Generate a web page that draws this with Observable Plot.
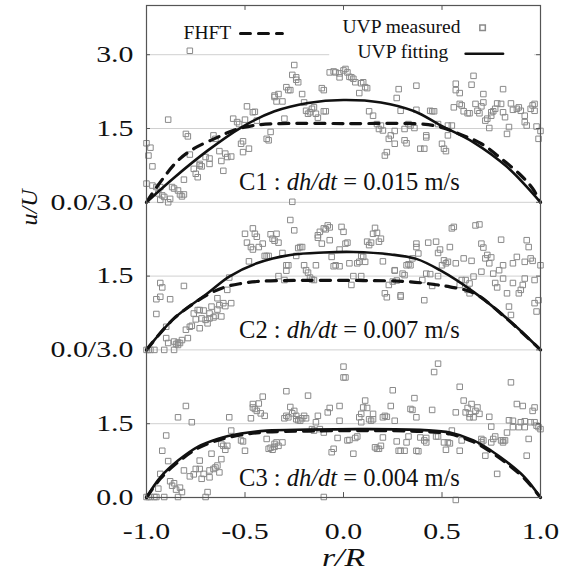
<!DOCTYPE html>
<html><head><meta charset="utf-8">
<script src="https://cdn.jsdelivr.net/npm/d3@7"></script>
<script src="https://cdn.jsdelivr.net/npm/@observablehq/plot@0.6"></script>
<style>body{margin:0;background:#fff}</style>
</head><body><div id="chart"></div>
<script>
// ---------- data ----------
const panelNames = ["C1", "C2", "C3"];
const panelRates = ["0.015", "0.007", "0.004"];
const panelOffset = {C1: 6, C2: 3, C3: 0};   // stacked panels, each 0–3
const yTicks = [0, 1.5, 3, 4.5, 6, 7.5, 9];
const yTickLabels = ["0.0", "1.5", "0.0/3.0", "1.5", "0.0/3.0", "1.5", "3.0"];
const xTicks = [-1, -0.5, 0, 0.5, 1];
const xTickLabels = ["-1.0", "-0.5", "0.0", "0.5", "1.0"];

const c1Measured = [[-0.78,3.08],[-1.00,1.20],[-0.98,1.11],[-0.99,0.95],[-0.97,0.73],[-1.00,0.38],[-0.97,0.34],[-0.95,0.31],[-0.93,0.31],[-0.94,0.18],[-0.92,0.14],[-0.93,0.05],[-0.91,0.11],[-0.89,0.0],[-0.89,1.68],[-0.88,0.07],[-0.87,0.31],[-0.86,0.28],[-0.84,0.24],[-0.83,0.16],[-0.82,0.12],[-0.81,0.16],[-0.80,1.39],[-0.79,1.34],[-0.81,0.46],[-0.78,0.97],[-0.76,0.68],[-0.75,0.58],[-0.74,0.51],[-0.73,0.75],[-0.73,0.78],[-0.72,0.73],[-0.70,0.92],[-0.68,0.89],[-0.68,0.78],[-0.66,1.36],[-0.65,1.29],[-0.63,1.04],[-0.62,0.84],[-0.61,0.64],[-0.60,0.99],[-0.59,0.92],[-0.57,0.93],[-0.56,1.70],[-0.54,1.63],[-0.53,1.59],[-0.52,1.19],[-0.51,1.02],[-0.51,1.24],[-0.50,1.68],[-0.49,1.95],[-0.48,1.09],[-0.46,1.83],[-0.45,1.84],[-0.44,1.66],[-0.39,1.29],[-0.38,1.26],[-0.37,1.43],[-0.35,2.14],[-0.35,2.17],[-0.34,2.05],[-0.33,2.20],[-0.31,2.05],[-0.30,1.70],[-0.29,2.34],[-0.28,2.28],[-0.27,2.28],[-0.25,2.79],[-0.26,2.59],[-0.24,2.54],[-0.24,2.49],[-0.23,2.44],[-0.21,2.20],[-0.20,2.03],[-0.19,1.86],[-0.18,1.80],[-0.17,1.83],[-0.16,1.90],[-0.15,1.93],[-0.14,1.80],[-0.13,1.72],[-0.11,2.32],[-0.10,2.28],[-0.10,1.85],[-0.09,1.85],[-0.07,2.64],[-0.05,2.66],[-0.04,2.64],[-0.02,2.54],[-0.02,2.62],[0.00,2.68],[0.01,2.71],[0.02,2.64],[0.03,2.55],[0.04,2.54],[0.05,2.51],[0.06,2.44],[0.08,2.22],[0.09,2.42],[0.10,2.44],[0.11,2.34],[0.12,2.32],[0.13,1.85],[0.15,1.76],[0.17,1.59],[0.18,1.49],[0.19,1.56],[0.20,1.46],[0.21,0.95],[0.22,1.02],[0.23,1.29],[0.24,1.36],[0.26,1.19],[0.26,1.45],[0.27,2.12],[0.28,2.30],[0.29,1.86],[0.31,1.49],[0.31,1.26],[0.32,1.20],[0.33,1.59],[0.34,1.56],[0.36,1.51],[0.37,2.37],[0.37,1.88],[0.39,1.09],[0.41,1.09],[0.42,1.36],[0.42,1.32],[0.44,1.86],[0.45,1.85],[0.46,1.85],[0.48,1.59],[0.50,1.19],[0.51,1.09],[0.52,1.04],[0.53,1.36],[0.53,1.56],[0.55,1.56],[0.56,1.93],[0.57,2.41],[0.57,2.28],[0.59,2.22],[0.59,2.00],[0.60,1.97],[0.61,1.85],[0.63,1.81],[0.64,1.81],[0.65,2.39],[0.66,2.57],[0.67,2.00],[0.68,1.86],[0.69,1.81],[0.70,1.95],[0.71,2.20],[0.71,2.03],[0.72,1.66],[0.73,1.70],[0.74,1.51],[0.75,1.76],[0.75,1.83],[0.76,1.85],[0.77,1.90],[0.78,2.01],[0.80,2.00],[0.81,1.83],[0.81,2.30],[0.82,1.73],[0.83,1.39],[0.84,1.53],[0.85,2.01],[0.86,1.88],[0.88,1.90],[0.89,1.93],[0.90,1.86],[0.92,1.76],[0.92,1.63],[0.93,1.56],[0.95,1.90],[0.96,1.97],[0.97,2.00],[0.97,1.86],[0.98,1.54],[0.99,1.29],[1.00,1.45],[-0.26,0.01]];

const c2Measured = [[-1.00,0.00],[-0.99,0.00],[-0.98,0.00],[-0.96,0.00],[-0.91,0.00],[-0.86,0.00],[-0.95,0.73],[-0.95,1.03],[-0.93,1.08],[-0.93,1.36],[-0.92,1.27],[-0.90,0.24],[-0.90,0.47],[-0.88,1.03],[-0.89,0.14],[-0.86,0.17],[-0.85,0.12],[-0.84,0.10],[-0.84,0.15],[-0.83,0.14],[-0.82,0.20],[-0.81,1.30],[-0.80,0.41],[-0.79,0.24],[-0.78,0.47],[-0.77,0.49],[-0.76,0.74],[-0.75,0.62],[-0.74,0.81],[-0.73,0.44],[-0.73,0.81],[-0.72,0.64],[-0.71,0.80],[-0.70,0.61],[-0.69,0.54],[-0.68,0.64],[-0.68,0.74],[-0.67,0.88],[-0.66,0.66],[-0.65,0.69],[-0.64,0.82],[-0.64,1.05],[-0.63,0.91],[-0.62,0.68],[-0.61,0.95],[-0.60,0.89],[-0.59,1.22],[-0.58,1.47],[-0.57,0.95],[-0.50,2.36],[-0.49,2.18],[-0.48,1.80],[-0.47,2.09],[-0.46,2.04],[-0.46,2.47],[-0.45,2.36],[-0.44,2.30],[-0.43,2.09],[-0.41,2.16],[-0.40,1.91],[-0.39,1.91],[-0.38,1.91],[-0.37,2.35],[-0.36,2.26],[-0.35,2.22],[-0.34,2.36],[-0.33,2.18],[-0.33,1.50],[-0.31,1.97],[-0.30,1.42],[-0.29,1.72],[-0.29,1.61],[-0.28,1.72],[-0.27,2.64],[-0.25,2.43],[-0.24,1.91],[-0.23,2.07],[-0.22,2.09],[-0.21,2.09],[-0.20,1.72],[-0.19,1.62],[-0.18,1.57],[-0.17,1.47],[-0.16,1.43],[-0.15,1.42],[-0.14,1.72],[-0.13,2.33],[-0.13,2.28],[-0.12,2.40],[-0.11,2.16],[-0.10,2.47],[-0.09,2.45],[-0.08,2.53],[-0.07,2.49],[-0.07,2.23],[-0.06,1.89],[-0.05,1.70],[-0.04,1.72],[-0.02,1.70],[-0.02,2.04],[-0.01,2.50],[0.00,2.40],[0.01,2.16],[0.02,2.18],[0.03,1.76],[0.04,1.32],[0.05,1.50],[0.07,1.76],[0.08,1.79],[0.09,1.91],[0.09,1.50],[0.10,1.89],[0.11,1.79],[0.12,2.20],[0.13,2.13],[0.14,2.18],[0.15,2.36],[0.16,2.48],[0.17,2.38],[0.18,2.20],[0.19,2.26],[0.20,1.80],[0.21,1.15],[0.22,1.07],[0.23,1.32],[0.25,1.39],[0.26,1.62],[0.26,1.61],[0.27,1.41],[0.29,1.11],[0.29,1.08],[0.30,1.55],[0.31,1.52],[0.32,1.72],[0.33,1.74],[0.34,1.72],[0.35,1.86],[0.37,2.09],[0.37,2.16],[0.38,1.96],[0.40,1.42],[0.41,1.01],[0.42,1.55],[0.43,2.18],[0.44,1.54],[0.45,1.30],[0.47,2.20],[0.48,1.50],[0.48,1.97],[0.49,2.04],[0.50,1.72],[0.51,1.82],[0.52,1.76],[0.53,1.79],[0.54,2.09],[0.55,2.47],[0.56,2.50],[0.57,1.76],[0.59,1.32],[0.60,1.42],[0.61,1.86],[0.62,1.42],[0.63,1.22],[0.64,1.15],[0.64,1.35],[0.65,1.81],[0.66,1.49],[0.67,2.53],[0.69,2.55],[0.70,1.59],[0.70,2.16],[0.71,2.08],[0.72,1.86],[0.73,1.93],[0.74,1.76],[0.75,1.88],[0.76,1.55],[0.77,1.36],[0.78,1.27],[0.79,1.62],[0.80,2.24],[0.81,1.72],[0.81,1.45],[0.83,1.15],[0.84,0.88],[0.85,0.71],[0.86,1.76],[0.86,1.36],[0.88,1.89],[0.89,1.15],[0.90,1.22],[0.91,1.32],[0.92,1.45],[0.92,1.79],[0.93,2.23],[0.94,2.09],[0.95,1.86],[0.96,1.81],[0.97,1.42],[0.97,0.95],[0.98,0.78],[0.99,1.01],[1.00,1.72]];

const c3Measured = [[0.00,2.66],[0.00,2.44],[0.01,2.44],[0.46,2.55],[0.48,2.72],[-1.00,0.01],[-0.99,0.01],[-0.98,0.01],[-0.96,0.01],[-0.95,0.01],[-0.91,0.01],[-0.84,0.01],[-0.70,0.01],[-0.94,0.18],[-0.93,0.48],[-0.92,0.95],[-0.90,1.26],[-0.89,0.74],[-0.88,0.33],[-0.87,0.24],[-0.86,0.29],[-0.85,0.16],[-0.84,1.63],[-0.83,0.20],[-0.82,0.11],[-0.81,0.55],[-0.80,1.86],[-0.78,0.43],[-0.77,1.53],[-0.76,0.47],[-0.75,0.58],[-0.73,0.58],[-0.73,0.75],[-0.72,0.38],[-0.71,0.48],[-0.69,0.11],[-0.68,0.41],[-0.68,0.55],[-0.67,0.89],[-0.66,0.58],[-0.65,0.61],[-0.64,0.65],[-0.63,0.51],[-0.62,0.78],[-0.62,1.09],[-0.61,1.05],[-0.60,0.97],[-0.59,1.05],[-0.58,1.63],[-0.57,1.36],[-0.52,1.16],[-0.51,1.14],[-0.50,0.95],[-0.47,1.61],[-0.46,1.90],[-0.46,1.83],[-0.45,1.80],[-0.44,1.76],[-0.43,1.91],[-0.42,1.71],[-0.41,2.05],[-0.40,1.66],[-0.39,1.19],[-0.38,0.99],[-0.37,1.01],[-0.36,0.97],[-0.35,1.03],[-0.35,1.09],[-0.34,1.12],[-0.33,1.05],[-0.31,1.12],[-0.30,1.61],[-0.29,2.16],[-0.29,1.66],[-0.28,1.63],[-0.27,1.84],[-0.26,1.71],[-0.25,1.76],[-0.24,1.59],[-0.24,1.66],[-0.23,1.57],[-0.22,1.56],[-0.21,1.61],[-0.20,1.66],[-0.19,1.61],[-0.18,2.07],[-0.16,1.39],[-0.15,1.36],[-0.14,1.53],[-0.13,1.66],[-0.12,1.39],[-0.10,1.32],[-0.08,1.73],[-0.07,1.82],[-0.06,0.92],[-0.05,0.99],[-0.03,1.21],[-0.02,1.56],[-0.02,1.86],[0.02,1.16],[0.03,1.17],[0.05,0.89],[0.06,1.21],[0.07,1.24],[0.08,1.63],[0.09,1.53],[0.09,1.70],[0.10,1.83],[0.11,1.97],[0.12,1.82],[0.13,1.59],[0.14,1.56],[0.15,1.70],[0.15,1.59],[0.16,1.02],[0.17,0.99],[0.18,0.99],[0.19,1.05],[0.20,1.22],[0.20,1.63],[0.21,1.66],[0.22,1.64],[0.24,1.86],[0.25,2.18],[0.26,1.56],[0.27,1.14],[0.28,0.95],[0.29,0.95],[0.31,0.95],[0.32,1.12],[0.33,1.24],[0.34,1.80],[0.35,1.78],[0.36,2.02],[0.37,1.63],[0.37,0.95],[0.38,0.94],[0.39,1.22],[0.41,1.16],[0.42,1.12],[0.42,1.21],[0.45,1.78],[0.47,1.24],[0.48,1.24],[0.51,1.12],[0.52,0.97],[0.53,1.12],[0.54,1.10],[0.55,1.36],[0.57,1.73],[0.59,2.25],[0.59,0.95],[0.60,1.16],[0.61,1.97],[0.62,1.73],[0.63,1.82],[0.64,1.70],[0.64,1.63],[0.65,1.90],[0.66,1.63],[0.67,1.76],[0.68,1.83],[0.69,1.70],[0.70,1.19],[0.70,1.12],[0.71,1.16],[0.72,0.85],[0.74,1.64],[0.75,1.44],[0.75,1.12],[0.76,1.19],[0.77,1.24],[0.78,0.48],[0.80,1.16],[0.81,1.12],[0.81,1.16],[0.82,1.16],[0.83,1.32],[0.84,1.57],[0.85,2.34],[0.86,1.43],[0.86,1.56],[0.88,1.90],[0.89,1.43],[0.90,1.53],[0.91,1.86],[0.92,1.55],[0.92,1.43],[0.93,0.85],[0.94,1.19],[0.95,1.53],[0.96,1.76],[0.97,1.83],[0.97,1.53],[0.98,1.46],[0.99,1.43],[1.00,1.39],[0.57,-0.05],[-0.10,0.01]];

const c1Fit = [[-1,0],[-0.86,0.50],[-0.69,1.05],[-0.52,1.52],[-0.35,1.85],[-0.18,2.02],[0,2.08],[0.19,2.03],[0.36,1.85],[0.49,1.57],[0.66,1.22],[0.83,0.72],[1,0]];
const c1Fhft = [[-1,0],[-0.93,0.41],[-0.84,0.85],[-0.76,1.09],[-0.64,1.32],[-0.56,1.46],[-0.46,1.56],[-0.32,1.60],[0.02,1.60],[0.40,1.59],[0.49,1.53],[0.60,1.37],[0.70,1.19],[0.80,0.89],[0.90,0.55],[0.96,0.28],[1,0]];
const c2Fit = [[-1,0],[-0.86,0.64],[-0.69,1.15],[-0.58,1.49],[-0.44,1.76],[-0.27,1.93],[-0.10,1.98],[0.05,1.99],[0.24,1.94],[0.37,1.85],[0.49,1.62],[0.66,1.18],[0.83,0.64],[1,0]];
const c2Fhft = [[-1,0],[-0.86,0.64],[-0.69,1.12],[-0.60,1.28],[-0.52,1.35],[-0.44,1.39],[-0.30,1.41],[0.10,1.41],[0.32,1.39],[0.46,1.33],[0.54,1.28],[0.66,1.16],[0.83,0.63],[1,0]];
const c3Fit = [[-1,0],[-0.93,0.41],[-0.84,0.75],[-0.74,1.03],[-0.64,1.19],[-0.52,1.30],[-0.39,1.36],[-0.18,1.38],[0.10,1.39],[0.41,1.37],[0.54,1.32],[0.66,1.16],[0.75,0.95],[0.83,0.72],[0.92,0.41],[1,0]];
const c3Fhft = [[-1,0],[-0.93,0.38],[-0.84,0.72],[-0.74,1.00],[-0.64,1.16],[-0.52,1.27],[-0.39,1.33],[-0.18,1.35],[0.10,1.36],[0.41,1.34],[0.54,1.29],[0.66,1.13],[0.75,0.92],[0.83,0.69],[0.92,0.38],[1,0]];

// ---------- assembled tables ----------
const toRows = (arr, panel) => arr.map(([x, y]) => ({x, y: y + panelOffset[panel], panel}));
const measured = [...toRows(c1Measured, "C1"), ...toRows(c2Measured, "C2"), ...toRows(c3Measured, "C3")];
const fits = [...toRows(c1Fit, "C1"), ...toRows(c2Fit, "C2"), ...toRows(c3Fit, "C3")];
const fhft = [...toRows(c1Fhft, "C1"), ...toRows(c2Fhft, "C2"), ...toRows(c3Fhft, "C3")];
const panelLabels = panelNames.map((p, i) => ({panel: p, rate: panelRates[i], x: 0.03, y: panelOffset[p] + 0.4}));
const yLabelMap = new Map(yTicks.map((t, i) => [t, yTickLabels[i]]));
const xLabelMap = new Map(xTicks.map((t, i) => [t, xTickLabels[i]]));
const gridLevels = [1.5, 3, 4.5, 6, 7.5];

const serif = "'Liberation Serif', 'Times New Roman', serif";
const ink = "#111";

const plot = Plot.plot({
  width: 562, height: 585,
  marginLeft: 146, marginRight: 22, marginTop: 5, marginBottom: 88,
  style: {fontFamily: serif, background: "#fff", color: ink},
  x: {domain: [-1, 1]},
  y: {domain: [0, 10]},
  marks: [
    Plot.ruleY(gridLevels, {stroke: "#d0d0d0", strokeWidth: 1}),
    Plot.ruleY([9], {x1: -1, x2: -0.07, stroke: "#d0d0d0"}),
    Plot.ruleY([9], {x1: 0.97, x2: 1, stroke: "#d0d0d0"}),
    Plot.dot(measured, {x: "x", y: "y", symbol: "square", r: 3.1, stroke: "#8a8a8a", strokeWidth: 1, fill: "none"}),
    Plot.line(fhft, {x: "x", y: "y", z: "panel", curve: "catmull-rom", stroke: ink, strokeWidth: 3.2, strokeDasharray: "10,8"}),
    Plot.line(fits, {x: "x", y: "y", z: "panel", curve: "catmull-rom", stroke: ink, strokeWidth: 2.6}),
    Plot.text(panelLabels, {x: "x", y: "y", text: d => `${d.panel} : dh/dt = ${d.rate} m/s`, fontSize: 24.5, fill: ink}),
    // legend
    Plot.text(["FHFT"], {x: -0.812, y: 9.45, textAnchor: "start", fontSize: 19.5, fill: ink}),
    Plot.line([[-0.523, 9.43], [-0.31, 9.43]], {stroke: ink, strokeWidth: 3, strokeDasharray: "10,8"}),
    Plot.text(["UVP measured"], {x: -0.005, y: 9.56, textAnchor: "start", fontSize: 19.5, fill: ink}),
    Plot.dot([[0.706, 9.55]], {symbol: "square", r: 3.1, stroke: "#8a8a8a", fill: "none"}),
    Plot.text(["UVP fitting"], {x: 0.071, y: 9.07, textAnchor: "start", fontSize: 19.5, fill: ink}),
    Plot.line([[0.62, 9.02], [0.81, 9.02]], {stroke: ink, strokeWidth: 2.6}),
    // frame & inward ticks
    Plot.frame({stroke: "#555", strokeWidth: 1.2}),
    Plot.ruleX([-0.5, 0, 0.5], {y1: 0, y2: 0.1, stroke: "#555"}),
    Plot.ruleX([-0.5, 0, 0.5], {y1: 9.9, y2: 10, stroke: "#555"}),
    Plot.ruleY(yTicks, {x1: -1, x2: -0.98, stroke: "#555"}),
    Plot.ruleY(yTicks, {x1: 0.98, x2: 1, stroke: "#555"}),
    Plot.axisY(yTicks, {tickSize: 0, tickPadding: 13, tickFormat: d => yLabelMap.get(d), fontSize: 23, label: null}),
    Plot.axisX(xTicks, {tickSize: 0, tickPadding: 25, tickFormat: d => xLabelMap.get(d), fontSize: 23, label: null}),
    Plot.text(["u/U"], {frameAnchor: "left", dx: -117, dy: -26, rotate: -90, fontSize: 24, fontStyle: "italic", fill: ink}),
    Plot.text(["r/R"], {frameAnchor: "bottom", dy: 68, fontSize: 25, fontStyle: "italic", fill: ink})
  ]
});

// horizontal stretch of the axis typography, like the reference
function stretchEl(t, k) {
  const tr = t.getAttribute("transform") || "";
  t.setAttribute("transform", tr + ` scale(${k},1)`);
}
plot.querySelectorAll('g[aria-label="y-axis tick label"] text, g[aria-label="x-axis tick label"] text')
  .forEach(t => stretchEl(t, 1.3));

plot.querySelectorAll("text").forEach(t => {
  const s = t.textContent;
  if (s === "r/R") stretchEl(t, 1.35);
  const m = /^(C\d) : dh\/dt = (.*)$/.exec(s);
  if (m) {
    t.textContent = "";
    const parts = [[`${m[1]} : `, false], ["dh/dt", true], [` = ${m[2]}`, false]];
    for (const [str, it] of parts) {
      const ts = document.createElementNS("http://www.w3.org/2000/svg", "tspan");
      ts.textContent = str;
      if (it) ts.setAttribute("style", "font-style:italic");
      t.appendChild(ts);
    }
  }
});

document.getElementById("chart").appendChild(plot);
</script>
</body></html>
